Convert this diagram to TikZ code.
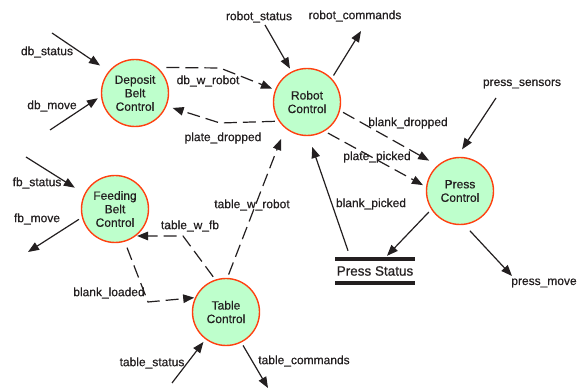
\documentclass[tikz,border=0pt]{standalone}
\usepackage{fontspec}
\setmainfont{Liberation Sans}[FakeBold=0.6]
\usetikzlibrary{arrows.meta, positioning}
\definecolor{procfill}{RGB}{190,255,204}
\definecolor{procline}{RGB}{255,64,16}
\definecolor{ink}{RGB}{35,31,32}

\begin{document}
\begin{tikzpicture}[x=1pt, y=-1pt, >={Triangle[length=11pt,width=8.5pt]},
  proc/.style={circle, draw=procline, fill=procfill, line width=1.4pt,
    minimum size=67pt, inner sep=0pt, outer sep=4pt, align=center,
    text=ink, font=\fontsize{12}{13.5}\selectfont},
  flow/.style={->, draw=ink, line width=1.2pt},
  dflow/.style={flow, dash pattern=on 13pt off 6pt},
  lbl/.style={text=ink, inner sep=0pt, font=\fontsize{12}{14}\selectfont}]
\useasboundingbox (0,0) rectangle (582,390);

% Control processes
\node[proc] (dbc) at (135,93) {Deposit\\Belt\\Control};
\node[proc] (rc) at (307,102) {Robot\\Control};
\node[proc] (pc) at (460,191) {Press\\Control};
\node[proc] (fbc) at (115,209) {Feeding\\Belt\\Control};
\node[proc] (tc) at (226,312) {Table\\Control};

% Data store
\node[lbl, font=\fontsize{13.5}{15}\selectfont, minimum height=24pt, inner xsep=1.5pt] (ps) at (375,271) {Press Status};
\draw[ink, line width=4pt] (ps.north west) -- (ps.north east);
\draw[ink, line width=4pt] (ps.south west) -- (ps.south east);

% Free ends and bends
\coordinate (dbs) at (52,33);
\coordinate (dbm) at (50,130);
\coordinate (rs) at (265,25);
\coordinate (rcm) at (361,31);
\coordinate (pss) at (496,98);
\coordinate (pm) at (512,276);
\coordinate (fbs) at (26,157);
\coordinate (fbm) at (28,252);
\coordinate (tst) at (172,383);
\coordinate (tcm) at (268,388);
\coordinate (bdw) at (220,68);
\coordinate (bpd) at (220,123);
\coordinate (btf) at (183,236);
\coordinate (bbl) at (148,302);

% External flows
\draw[flow, shorten >=7pt] (dbs) -- (dbc.141);
\draw[flow] (dbm) -- (dbc.188);
\draw[flow] (rs) -- (rc.117);
\draw[flow] (rc.45) -- (rcm);
\draw[flow, shorten >=5pt] (pss) -- (pc.91);
\draw[flow, shorten <=4pt] (pc.-79) -- (pm);
\draw[flow, shorten >=8pt] (fbs) -- (fbc.153);
\draw[flow] (fbc.196) -- (fbm);
\draw[flow] (tst) -- (tc.233);
\draw[flow] (tc.-63) -- (tcm);

% Press status flows
\draw[flow] (pc.214) -- ([xshift=12pt, yshift=3pt]ps.north);
\draw[flow, shorten >=8pt] ([xshift=13pt, yshift=8pt]ps.north west) -- (rc.-86);

% Internal flows
\draw[dflow, shorten <=4pt] (dbc.43) -- (bdw) -- (rc.159);
\draw[dflow, shorten >=3pt] (rc.211) -- (bpd) -- (dbc.-22);
\draw[dflow, shorten >=6pt] (rc.-16) -- (pc.133);
\draw[dflow] (rc.-56) -- (pc.171);
\draw[dflow, shorten >=-4pt] (tc.110) -- (btf) -- (fbc.-46);
\draw[dflow, shorten <=3pt, shorten >=-3pt] (fbc.-73) -- (bbl) -- (tc.158);
\draw[dflow, shorten >=8pt] (tc.86) -- (rc.232);

% Flow labels
\node[lbl] (l-dbs) at (47,52) {db\_status};
\node[lbl] (l-dbm) at (52,106) {db\_move};
\node[lbl] (l-dbw) at (208,81) {db\_w\_robot};
\node[lbl] (l-pd) at (223,138) {plate\_dropped};
\node[lbl] (l-rs) at (259,17) {robot\_status};
\node[lbl] (l-rcm) at (355,16) {robot\_commands};
\node[lbl] (l-pss) at (522,84) {press\_sensors};
\node[lbl] (l-bd) at (408,123) {blank\_dropped};
\node[lbl] (l-pp) at (377,157) {plate\_picked};
\node[lbl] (l-bp) at (371,204) {blank\_picked};
\node[lbl] (l-pm) at (544,283) {press\_move};
\node[lbl] (l-fbs) at (37,183) {fb\_status};
\node[lbl] (l-fbm) at (37,219) {fb\_move};
\node[lbl] (l-tfb) at (190,226) {table\_w\_fb};
\node[lbl] (l-bl) at (109,293) {blank\_loaded};
\node[lbl] (l-twr) at (252,205) {table\_w\_robot};
\node[lbl] (l-tst) at (152,363) {table\_status};
\node[lbl] (l-tcm) at (304,361) {table\_commands};
\end{tikzpicture}
\end{document}
